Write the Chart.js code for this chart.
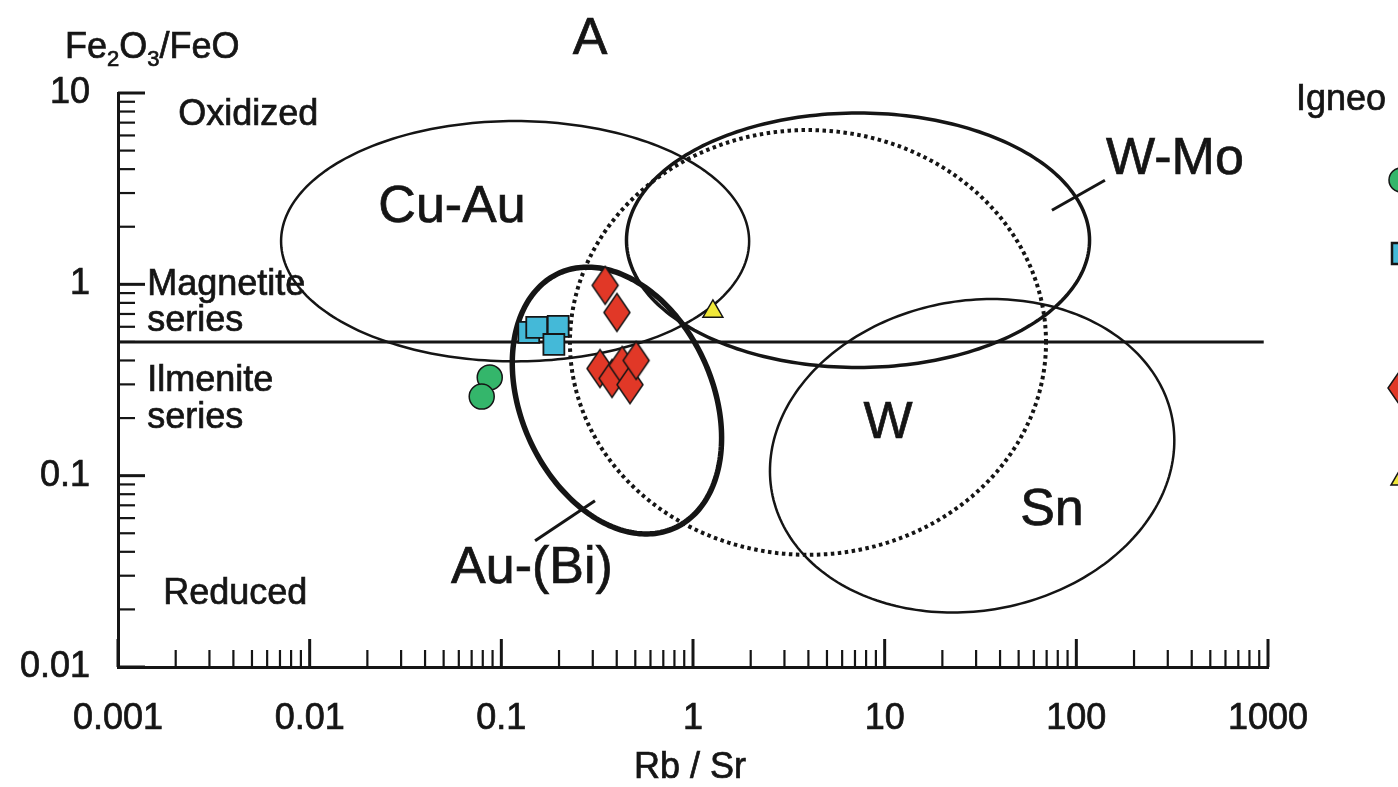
<!DOCTYPE html>
<html>
<head>
<meta charset="utf-8">
<script src="https://cdn.jsdelivr.net/npm/chart.js@4/dist/chart.umd.min.js"></script>
<style>
    html, body { margin: 0; padding: 0; background: #fff; overflow: hidden; }
    #wrap { width: 1398px; height: 787px; position: relative; }
</style>
</head>
<body>
<div id="wrap"><canvas id="oreChart"></canvas></div>
<script>
// Axis ticks
const xDecades = [0.001, 0.01, 0.1, 1, 10, 100, 1000];
const xTickLabels = ['0.001', '0.01', '0.1', '1', '10', '100', '1000'];
const yDecades = [0.01, 0.1, 1, 10];
const yTickLabels = ['0.01', '0.1', '1', '10'];
const minorSteps = [2, 3, 4, 5, 6, 7, 8, 9];

// Sample points (Rb/Sr, Fe2O3/FeO)
const greenX = [0.087, 0.079];
const greenY = [0.326, 0.259];
const blueX = [0.139, 0.153, 0.198, 0.188];
const blueY = [0.561, 0.596, 0.603, 0.485];
const redX = [0.348, 0.401, 0.327, 0.378, 0.427, 0.469, 0.505];
const redY = [0.988, 0.713, 0.363, 0.322, 0.377, 0.299, 0.400];
const yellowX = [1.27];
const yellowY = [0.722];

// Magnetite / ilmenite series boundary
const boundaryX = [0.001, 950];
const boundaryY = [0.5, 0.5];

// Ore fields: centre (data units), semi-axes in log decades, tilt in degrees
const fieldNames = ['Cu-Au', 'W-Mo', 'W', 'Sn', 'Au-(Bi)'];
const fieldCentreX = [0.118, 7.26, 3.98, 28.6, 0.401];
const fieldCentreY = [1.68, 1.70, 0.497, 0.127, 0.247];
const fieldRadiusX = [1.221, 1.208, 1.242, 1.062, 0.731];
const fieldRadiusY = [0.628, 0.665, 1.11, 0.81, 0.50];
const fieldTilt = [0, 0, 0, 10.3, -65.7];

// Leader lines from labels to fields
const leaderWMoX = [141, 74.6];
const leaderWMoY = [3.5, 2.44];
const leaderAuBiX = [0.150, 0.308];
const leaderAuBiY = [0.0457, 0.074];

// Text inside the plot (data units)
const noteTexts = ['Oxidized', 'Magnetite', 'series', 'Ilmenite', 'series', 'Reduced',
    'Cu-Au', 'W-Mo', 'W', 'Sn', 'Au-(Bi)'];
const noteX = [0.00206, 0.00142, 0.00142, 0.00142, 0.00142, 0.00172, 0.0553, 327, 10.4, 74.6, 0.1445];
const noteY = [7.67, 0.988, 0.640, 0.314, 0.199, 0.0241, 2.53, 4.46, 0.187, 0.0656, 0.0326];

const ink = '#151515';
const fontFamily = "'Liberation Sans', Arial, sans-serif";

const toPoints = (xs, ys) => xs.map((v, i) => ({ x: v, y: ys[i] }));
const tickValues = decades => {
    const out = [];
    decades.forEach((d, i) => {
        out.push(d);
        if (i < decades.length - 1) minorSteps.forEach(m => out.push(+(d * m).toPrecision(3)));
    });
    return out;
};

function diamondImage(w, h, fill) {
    const c = document.createElement('canvas');
    c.width = w + 4;
    c.height = h + 4;
    const g = c.getContext('2d');
    g.beginPath();
    g.moveTo(c.width / 2, 2);
    g.lineTo(c.width - 2, c.height / 2);
    g.lineTo(c.width / 2, c.height - 2);
    g.lineTo(2, c.height / 2);
    g.closePath();
    g.fillStyle = fill;
    g.fill();
    g.lineWidth = 1.5;
    g.strokeStyle = ink;
    g.stroke();
    return c;
}
const redDiamond = diamondImage(26, 38, '#e13827');

const fieldPlugin = {
    id: 'fields',
    beforeDatasetsDraw(chart) {
        const { ctx, scales: { x, y } } = chart;
        const widths = [2.5, 3.5, 4, 2.5, 5.5];
        ctx.save();
        ctx.strokeStyle = ink;
        fieldNames.forEach((name, i) => {
            ctx.lineWidth = widths[i];
            ctx.setLineDash(name === 'W' ? [3.5, 3.5] : []);
            const lx0 = Math.log10(fieldCentreX[i]);
            const ly0 = Math.log10(fieldCentreY[i]);
            const th = fieldTilt[i] * Math.PI / 180;
            ctx.beginPath();
            for (let k = 0; k <= 240; k++) {
                const t = k / 240 * Math.PI * 2;
                const dx = fieldRadiusX[i] * Math.cos(t);
                const dy = fieldRadiusY[i] * Math.sin(t);
                const px = x.getPixelForValue(10 ** (lx0 + dx * Math.cos(th) - dy * Math.sin(th)));
                const py = y.getPixelForValue(10 ** (ly0 + dx * Math.sin(th) + dy * Math.cos(th)));
                if (k === 0) ctx.moveTo(px, py); else ctx.lineTo(px, py);
            }
            ctx.closePath();
            ctx.stroke();
        });
        ctx.restore();
    }
};

// text drawn slightly heavier, like the scanned figure
function inkText(ctx, txt, px, py) {
    ctx.fillText(txt, px, py);
    ctx.strokeText(txt, px, py);
}

const textPlugin = {
    id: 'texts',
    afterDraw(chart) {
        const { ctx, chartArea, scales: { x, y } } = chart;
        ctx.save();
        ctx.fillStyle = ink;
        ctx.strokeStyle = ink;

        // inward tick marks
        const isDecade = v => Math.abs(Math.log10(v) - Math.round(Math.log10(v))) < 1e-6;
        x.ticks.forEach(t => {
            const px = x.getPixelForValue(t.value);
            const major = isDecade(t.value);
            ctx.lineWidth = major ? 3 : 2.2;
            ctx.beginPath();
            ctx.moveTo(px, chartArea.bottom);
            ctx.lineTo(px, chartArea.bottom - (major ? 28 : 17));
            ctx.stroke();
        });
        y.ticks.forEach(t => {
            const py = y.getPixelForValue(t.value);
            const major = isDecade(t.value);
            ctx.lineWidth = major ? 3 : 2.2;
            ctx.beginPath();
            ctx.moveTo(chartArea.left, py);
            ctx.lineTo(chartArea.left + (major ? 27 : 17), py);
            ctx.stroke();
        });

        // notes in the plot
        ctx.lineWidth = 0.7;
        ctx.textBaseline = 'middle';
        noteTexts.forEach((txt, i) => {
            const big = i >= 6;
            ctx.font = (big ? 52 : 36) + 'px ' + fontFamily;
            ctx.textAlign = big ? 'center' : 'left';
            inkText(ctx, txt, x.getPixelForValue(noteX[i]), y.getPixelForValue(noteY[i]));
        });

        // title
        ctx.textAlign = 'center';
        ctx.font = '52px ' + fontFamily;
        inkText(ctx, 'A', 590, 40);

        // axis titles
        ctx.font = '36px ' + fontFamily;
        inkText(ctx, 'Rb / Sr', 690, 768);
        ctx.textAlign = 'left';
        ctx.textBaseline = 'alphabetic';
        let cx = 65;
        const parts = [['Fe', 0], ['2', 1], ['O', 0], ['3', 1], ['/FeO', 0]];
        parts.forEach(([s, sub]) => {
            ctx.font = (sub ? 22 : 36) + 'px ' + fontFamily;
            inkText(ctx, s, cx, sub ? 66 : 58);
            cx += ctx.measureText(s).width;
        });

        // legend, cut at the right edge
        ctx.font = '36px ' + fontFamily;
        ctx.textBaseline = 'middle';
        inkText(ctx, 'Igneo', 1296, 100);
        const lx = chartArea.right + 133;
        ctx.lineWidth = 1.5;
        ctx.fillStyle = '#34b66b';
        ctx.beginPath(); ctx.arc(lx, 180, 12, 0, Math.PI * 2); ctx.fill(); ctx.stroke();
        ctx.fillStyle = '#44b9d8';
        ctx.lineWidth = 2.5;
        ctx.fillRect(lx - 9, 243, 21, 21); ctx.strokeRect(lx - 9, 243, 21, 21);
        ctx.lineWidth = 1.5;
        ctx.drawImage(redDiamond, lx - redDiamond.width / 2, 388 - redDiamond.height / 2);
        ctx.fillStyle = '#f1e93a';
        ctx.beginPath(); ctx.moveTo(lx, 468); ctx.lineTo(lx + 10, 485); ctx.lineTo(lx - 10, 485); ctx.closePath();
        ctx.fill(); ctx.stroke();
        ctx.restore();
    }
};

const lineSet = (xs, ys, width) => ({
    type: 'line',
    data: toPoints(xs, ys),
    borderColor: ink,
    borderWidth: width,
    pointRadius: 0,
    fill: false,
    order: 5
});

new Chart(document.getElementById('oreChart'), {
    type: 'scatter',
    data: {
        datasets: [
            lineSet(boundaryX, boundaryY, 3),
            lineSet(leaderWMoX, leaderWMoY, 3),
            lineSet(leaderAuBiX, leaderAuBiY, 3),
            {
                label: 'green',
                data: toPoints(greenX, greenY),
                pointStyle: 'circle',
                pointRadius: 12.5,
                backgroundColor: '#34b66b',
                borderColor: ink,
                borderWidth: 1.5,
                order: 1
            },
            {
                label: 'blue',
                data: toPoints(blueX, blueY),
                pointStyle: 'rect',
                pointRadius: 14.8,
                backgroundColor: '#44b9d8',
                borderColor: ink,
                borderWidth: 1.8,
                order: 1
            },
            {
                label: 'red',
                data: toPoints(redX, redY),
                pointStyle: redDiamond,
                pointRadius: 14,
                order: 1
            },
            {
                label: 'yellow',
                data: toPoints(yellowX, yellowY),
                pointStyle: 'triangle',
                pointRadius: 11.5,
                backgroundColor: '#f1e93a',
                borderColor: ink,
                borderWidth: 1.5,
                order: 1
            }
        ]
    },
    options: {
        responsive: true,
        maintainAspectRatio: false,
        animation: false,
        devicePixelRatio: 1,
        layout: { padding: { left: 0, top: 93, right: 130, bottom: 0 } },
        plugins: { legend: { display: false }, tooltip: { enabled: false } },
        scales: {
            x: {
                type: 'logarithmic',
                min: 0.001,
                max: 1000,
                grid: { display: false },
                border: { display: true, color: ink, width: 3 },
                afterBuildTicks: scale => { scale.ticks = tickValues(xDecades).map(v => ({ value: v })); },
                afterFit: scale => { scale.height = 120; },
                ticks: {
                    autoSkip: false,
                    maxRotation: 0,
                    minRotation: 0,
                    padding: 22,
                    color: ink,
                    textStrokeColor: ink,
                    textStrokeWidth: 0.7,
                    font: { family: fontFamily, size: 36 },
                    callback: v => { const i = xDecades.indexOf(v); return i >= 0 ? xTickLabels[i] : ''; }
                }
            },
            y: {
                type: 'logarithmic',
                min: 0.01,
                max: 10,
                grid: { display: false },
                border: { display: true, color: ink, width: 3 },
                afterBuildTicks: scale => { scale.ticks = tickValues(yDecades).map(v => ({ value: v })); },
                afterFit: scale => { scale.width = 118; },
                ticks: {
                    autoSkip: false,
                    padding: 20,
                    color: ink,
                    textStrokeColor: ink,
                    textStrokeWidth: 0.7,
                    font: { family: fontFamily, size: 36 },
                    callback: v => { const i = yDecades.indexOf(v); return i >= 0 ? yTickLabels[i] : ''; }
                }
            }
        }
    },
    plugins: [fieldPlugin, textPlugin]
});
</script>
</body>
</html>
